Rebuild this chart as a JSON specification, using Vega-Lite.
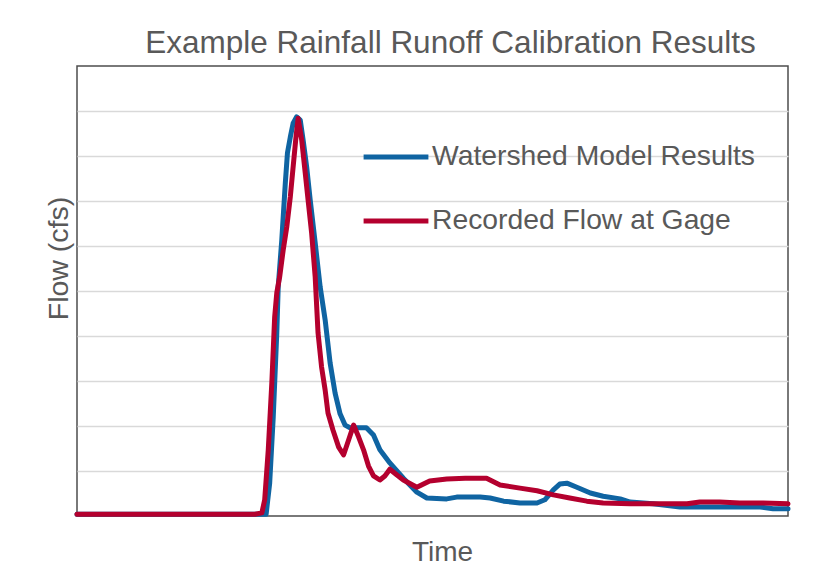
{
  "$schema": "https://vega.github.io/schema/vega-lite/v6.json",
  "width": 711,
  "height": 450,
  "autosize": {"type": "none"},
  "padding": {"left": 77, "top": 66, "right": 32, "bottom": 50},
  "background": "white",
  "title": {
    "text": "Example Rainfall Runoff Calibration Results",
    "fontSize": 31.5,
    "font": "Liberation Sans",
    "fontWeight": "normal",
    "color": "#595959",
    "anchor": "middle",
    "frame": "group",
    "baseline": "alphabetic",
    "offset": -18,
    "dx": 18
  },
  "config": {
    "view": {"stroke": "#4d4d4d", "strokeWidth": 1.5},
    "font": "Liberation Sans"
  },
  "data": {
    "values": [
      {"series": "Watershed Model Results", "t": 0, "flow": 4},
      {"series": "Watershed Model Results", "t": 26.6, "flow": 4},
      {"series": "Watershed Model Results", "t": 27.1, "flow": 73},
      {"series": "Watershed Model Results", "t": 27.6, "flow": 220},
      {"series": "Watershed Model Results", "t": 28.1, "flow": 407},
      {"series": "Watershed Model Results", "t": 28.3, "flow": 509},
      {"series": "Watershed Model Results", "t": 28.8, "flow": 613},
      {"series": "Watershed Model Results", "t": 29.3, "flow": 740},
      {"series": "Watershed Model Results", "t": 29.6, "flow": 807},
      {"series": "Watershed Model Results", "t": 30.0, "flow": 842},
      {"series": "Watershed Model Results", "t": 30.4, "flow": 873},
      {"series": "Watershed Model Results", "t": 30.9, "flow": 887},
      {"series": "Watershed Model Results", "t": 31.4, "flow": 880},
      {"series": "Watershed Model Results", "t": 31.8, "flow": 836},
      {"series": "Watershed Model Results", "t": 32.3, "flow": 776},
      {"series": "Watershed Model Results", "t": 32.8, "flow": 702},
      {"series": "Watershed Model Results", "t": 33.5, "flow": 607},
      {"series": "Watershed Model Results", "t": 34.2, "flow": 509},
      {"series": "Watershed Model Results", "t": 34.9, "flow": 436},
      {"series": "Watershed Model Results", "t": 35.6, "flow": 340},
      {"series": "Watershed Model Results", "t": 36.3, "flow": 273},
      {"series": "Watershed Model Results", "t": 37.0, "flow": 227},
      {"series": "Watershed Model Results", "t": 37.7, "flow": 202},
      {"series": "Watershed Model Results", "t": 38.4, "flow": 196},
      {"series": "Watershed Model Results", "t": 39.5, "flow": 196},
      {"series": "Watershed Model Results", "t": 40.7, "flow": 196},
      {"series": "Watershed Model Results", "t": 41.7, "flow": 180},
      {"series": "Watershed Model Results", "t": 42.6, "flow": 147},
      {"series": "Watershed Model Results", "t": 44.0, "flow": 118},
      {"series": "Watershed Model Results", "t": 45.9, "flow": 84},
      {"series": "Watershed Model Results", "t": 47.8, "flow": 53},
      {"series": "Watershed Model Results", "t": 49.2, "flow": 40},
      {"series": "Watershed Model Results", "t": 52.0, "flow": 38},
      {"series": "Watershed Model Results", "t": 53.4, "flow": 42},
      {"series": "Watershed Model Results", "t": 56.7, "flow": 42},
      {"series": "Watershed Model Results", "t": 58.1, "flow": 40},
      {"series": "Watershed Model Results", "t": 60.0, "flow": 33},
      {"series": "Watershed Model Results", "t": 62.3, "flow": 29},
      {"series": "Watershed Model Results", "t": 64.7, "flow": 29},
      {"series": "Watershed Model Results", "t": 65.8, "flow": 36},
      {"series": "Watershed Model Results", "t": 67.0, "flow": 58},
      {"series": "Watershed Model Results", "t": 67.9, "flow": 71},
      {"series": "Watershed Model Results", "t": 68.9, "flow": 73},
      {"series": "Watershed Model Results", "t": 70.3, "flow": 64},
      {"series": "Watershed Model Results", "t": 72.2, "flow": 51},
      {"series": "Watershed Model Results", "t": 74.0, "flow": 44},
      {"series": "Watershed Model Results", "t": 76.4, "flow": 38},
      {"series": "Watershed Model Results", "t": 77.8, "flow": 31},
      {"series": "Watershed Model Results", "t": 81.0, "flow": 27},
      {"series": "Watershed Model Results", "t": 84.8, "flow": 20},
      {"series": "Watershed Model Results", "t": 90.4, "flow": 20},
      {"series": "Watershed Model Results", "t": 96.1, "flow": 20},
      {"series": "Watershed Model Results", "t": 97.9, "flow": 16},
      {"series": "Watershed Model Results", "t": 100, "flow": 16},
      {"series": "Recorded Flow at Gage", "t": 0, "flow": 4},
      {"series": "Recorded Flow at Gage", "t": 25.0, "flow": 4},
      {"series": "Recorded Flow at Gage", "t": 26.0, "flow": 7},
      {"series": "Recorded Flow at Gage", "t": 26.4, "flow": 36},
      {"series": "Recorded Flow at Gage", "t": 26.9, "flow": 147},
      {"series": "Recorded Flow at Gage", "t": 27.4, "flow": 296},
      {"series": "Recorded Flow at Gage", "t": 27.8, "flow": 442},
      {"series": "Recorded Flow at Gage", "t": 28.1, "flow": 496},
      {"series": "Recorded Flow at Gage", "t": 28.5, "flow": 531},
      {"series": "Recorded Flow at Gage", "t": 29.0, "flow": 591},
      {"series": "Recorded Flow at Gage", "t": 29.5, "flow": 642},
      {"series": "Recorded Flow at Gage", "t": 30.0, "flow": 709},
      {"series": "Recorded Flow at Gage", "t": 30.4, "flow": 776},
      {"series": "Recorded Flow at Gage", "t": 30.8, "flow": 842},
      {"series": "Recorded Flow at Gage", "t": 31.1, "flow": 884},
      {"series": "Recorded Flow at Gage", "t": 31.6, "flow": 836},
      {"series": "Recorded Flow at Gage", "t": 32.1, "flow": 762},
      {"series": "Recorded Flow at Gage", "t": 32.5, "flow": 702},
      {"series": "Recorded Flow at Gage", "t": 33.0, "flow": 629},
      {"series": "Recorded Flow at Gage", "t": 33.5, "flow": 531},
      {"series": "Recorded Flow at Gage", "t": 33.9, "flow": 407},
      {"series": "Recorded Flow at Gage", "t": 34.4, "flow": 331},
      {"series": "Recorded Flow at Gage", "t": 34.9, "flow": 280},
      {"series": "Recorded Flow at Gage", "t": 35.3, "flow": 229},
      {"series": "Recorded Flow at Gage", "t": 36.0, "flow": 191},
      {"series": "Recorded Flow at Gage", "t": 36.8, "flow": 153},
      {"series": "Recorded Flow at Gage", "t": 37.5, "flow": 136},
      {"series": "Recorded Flow at Gage", "t": 38.2, "flow": 169},
      {"series": "Recorded Flow at Gage", "t": 38.9, "flow": 202},
      {"series": "Recorded Flow at Gage", "t": 39.6, "flow": 176},
      {"series": "Recorded Flow at Gage", "t": 40.3, "flow": 147},
      {"series": "Recorded Flow at Gage", "t": 41.0, "flow": 111},
      {"series": "Recorded Flow at Gage", "t": 41.7, "flow": 89},
      {"series": "Recorded Flow at Gage", "t": 42.6, "flow": 80},
      {"series": "Recorded Flow at Gage", "t": 43.3, "flow": 89},
      {"series": "Recorded Flow at Gage", "t": 44.0, "flow": 104},
      {"series": "Recorded Flow at Gage", "t": 45.0, "flow": 91},
      {"series": "Recorded Flow at Gage", "t": 45.9, "flow": 80},
      {"series": "Recorded Flow at Gage", "t": 47.8, "flow": 64},
      {"series": "Recorded Flow at Gage", "t": 49.6, "flow": 78},
      {"series": "Recorded Flow at Gage", "t": 52.0, "flow": 82},
      {"series": "Recorded Flow at Gage", "t": 54.6, "flow": 84},
      {"series": "Recorded Flow at Gage", "t": 57.6, "flow": 84},
      {"series": "Recorded Flow at Gage", "t": 59.5, "flow": 69},
      {"series": "Recorded Flow at Gage", "t": 62.3, "flow": 62},
      {"series": "Recorded Flow at Gage", "t": 64.7, "flow": 56},
      {"series": "Recorded Flow at Gage", "t": 67.0, "flow": 47},
      {"series": "Recorded Flow at Gage", "t": 69.3, "flow": 40},
      {"series": "Recorded Flow at Gage", "t": 71.7, "flow": 33},
      {"series": "Recorded Flow at Gage", "t": 74.0, "flow": 29},
      {"series": "Recorded Flow at Gage", "t": 77.8, "flow": 27},
      {"series": "Recorded Flow at Gage", "t": 81.0, "flow": 27},
      {"series": "Recorded Flow at Gage", "t": 85.8, "flow": 27},
      {"series": "Recorded Flow at Gage", "t": 87.6, "flow": 31},
      {"series": "Recorded Flow at Gage", "t": 90.4, "flow": 31},
      {"series": "Recorded Flow at Gage", "t": 93.2, "flow": 29},
      {"series": "Recorded Flow at Gage", "t": 96.5, "flow": 29},
      {"series": "Recorded Flow at Gage", "t": 100, "flow": 27}
    ]
  },
  "mark": {"type": "line", "strokeWidth": 5, "strokeJoin": "round", "strokeCap": "round"},
  "encoding": {
    "x": {
      "field": "t",
      "type": "quantitative",
      "scale": {"domain": [0, 100], "nice": false, "zero": false},
      "axis": {
        "title": "Time",
        "labels": false,
        "ticks": false,
        "domain": false,
        "grid": false,
        "titleFontSize": 28,
        "titleFontWeight": "normal",
        "titleColor": "#595959",
        "titleFont": "Liberation Sans",
        "titleX": 365,
        "titleY": 44,
        "titleAlign": "center",
        "titleBaseline": "alphabetic"
      }
    },
    "y": {
      "field": "flow",
      "type": "quantitative",
      "scale": {"domain": [0, 1000], "nice": false},
      "axis": {
        "title": "Flow (cfs)",
        "labels": false,
        "ticks": false,
        "domain": false,
        "grid": true,
        "values": [100, 200, 300, 400, 500, 600, 700, 800, 900],
        "gridColor": "#d9d9d9",
        "gridWidth": 1.5,
        "titleFontSize": 28.5,
        "titleFontWeight": "normal",
        "titleColor": "#595959",
        "titleFont": "Liberation Sans",
        "titleAngle": 270,
        "titleX": -10,
        "titleY": 192,
        "titleAlign": "center",
        "titleBaseline": "alphabetic"
      }
    },
    "color": {
      "field": "series",
      "type": "nominal",
      "sort": ["Watershed Model Results", "Recorded Flow at Gage"],
      "scale": {
        "domain": ["Watershed Model Results", "Recorded Flow at Gage"],
        "range": ["#0f64a2", "#b4002e"]
      },
      "legend": {
        "title": null,
        "orient": "none",
        "legendX": 284,
        "legendY": 56,
        "direction": "vertical",
        "symbolType": "stroke",
        "symbolStrokeWidth": 5,
        "symbolSize": 4200,
        "labelFontSize": 28.3,
        "labelColor": "#595959",
        "labelFont": "Liberation Sans",
        "labelOffset": 1,
        "labelLimit": 400,
        "rowPadding": 15,
        "padding": 0
      }
    }
  }
}
